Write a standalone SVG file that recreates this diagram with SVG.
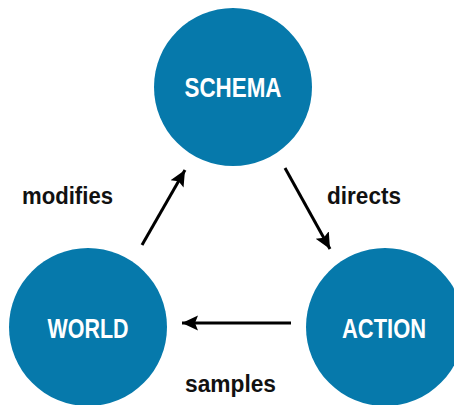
<svg xmlns="http://www.w3.org/2000/svg" width="454" height="405" viewBox="0 0 454 405">
<style>
.node circle{fill:#0679ab}
.node text{fill:#fff;font-family:"Liberation Sans",Arial,sans-serif;font-weight:bold;font-size:28px;text-anchor:middle}
.lbl{fill:#111;font-family:"Liberation Sans",Arial,sans-serif;font-weight:bold;font-size:23px}
.conn path{stroke:#000;stroke-width:3;fill:none}
</style>
<defs>
<marker id="ah" markerUnits="userSpaceOnUse" markerWidth="17" markerHeight="17" viewBox="0 0 17 17" refX="16" refY="8.5" orient="auto">
<path d="M0,1 L16,8.5 L0,16 L3,8.5 Z" fill="#000"/>
</marker>
</defs>
<rect width="454" height="405" fill="#fff"/>
<g id="schema" class="node"><circle cx="233" cy="87" r="79"/><text x="233" y="97" textLength="97" lengthAdjust="spacingAndGlyphs">SCHEMA</text></g>
<g id="world" class="node"><circle cx="88" cy="327" r="79"/><text x="88" y="338" textLength="81" lengthAdjust="spacingAndGlyphs">WORLD</text></g>
<g id="action" class="node"><circle cx="385" cy="327" r="79"/><text x="384" y="338" textLength="84" lengthAdjust="spacingAndGlyphs">ACTION</text></g>
<g id="connectors" class="conn">
<path d="M142,245 L185,170" marker-end="url(#ah)"/>
<path d="M285,168 L330,249" marker-end="url(#ah)"/>
<path d="M291,323 L182,323" marker-end="url(#ah)"/>
</g>
<text class="lbl" x="22" y="204" textLength="91" lengthAdjust="spacingAndGlyphs">modifies</text>
<text class="lbl" x="327" y="204" textLength="74" lengthAdjust="spacingAndGlyphs">directs</text>
<text class="lbl" x="185" y="392" textLength="91" lengthAdjust="spacingAndGlyphs">samples</text>
</svg>
